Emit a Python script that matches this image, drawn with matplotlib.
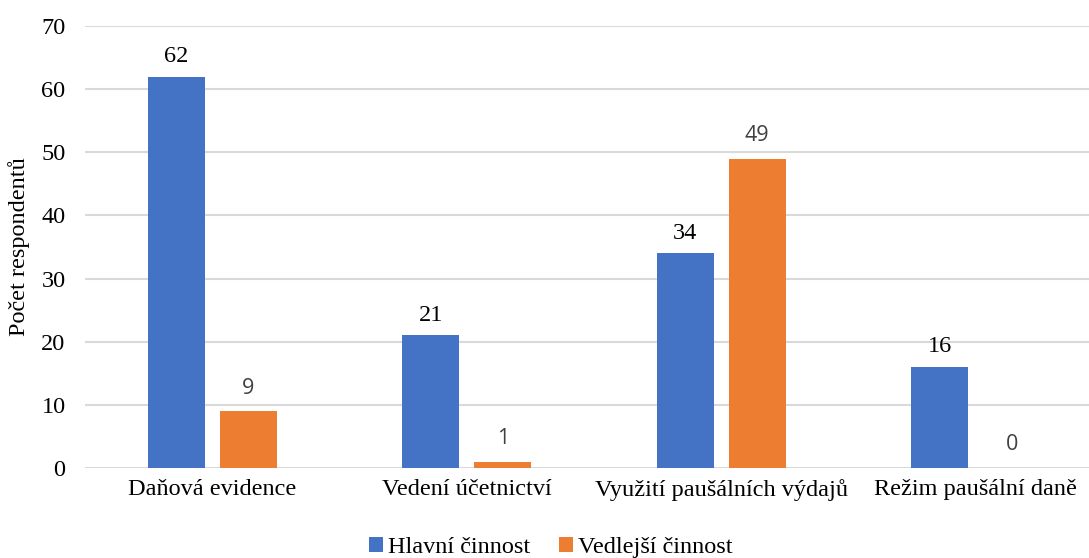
import numpy as np
import matplotlib
matplotlib.use('Agg')
import matplotlib.pyplot as plt

categories = ['Daňová evidence', 'Vedení účetnictví', 'Využití paušálních výdajů', 'Režim paušální daně']
hlavni = [62, 21, 34, 16]
vedlejsi = [9, 1, 49, 0]
series_names = ['Hlavní činnost', 'Vedlejší činnost']

plt.rcParams['font.family'] = ['Liberation Serif', 'DejaVu Serif']
plt.rcParams['font.size'] = 17.5
blue = '#4472C4'
orange = '#ED7D31'

fig = plt.figure(figsize=(10.89, 5.58), dpi=100)
ax = fig.add_axes([85 / 1089, 90 / 558, 1 - 85 / 1089, 442 / 558])

x = np.arange(len(categories))
w = 0.224
off = 0.1415
b1 = ax.bar(x - off, hlavni, w, color=blue, label=series_names[0], zorder=3)
b2 = ax.bar(x + off, vedlejsi, w, color=orange, label=series_names[1], zorder=3)

for rect, v in zip(b1, hlavni):
    ax.annotate(str(v), (rect.get_x() + rect.get_width() / 2, v), xytext=(0, 7),
                textcoords='offset points', ha='center', va='bottom',
                fontsize=17.5, color='black')
for rect, v in zip(b2, vedlejsi):
    ax.annotate(str(v), (rect.get_x() + rect.get_width() / 2, v), xytext=(0, 9),
                textcoords='offset points', ha='center', va='bottom',
                fontsize=15.5, family='Open Sans', color='#404040')

ax.set_xlim(-0.5, -0.5 + (1089 - 85) / 254.5)
ax.set_ylim(0, 70)
ax.set_yticks(range(0, 71, 10))
ax.set_xticks(x)
ax.set_xticklabels(categories)
ax.tick_params(axis='both', length=0, labelsize=17.5)
ax.tick_params(axis='x', pad=8)
ax.tick_params(axis='y', pad=14)
ax.grid(axis='y', color='#d9d9d9', linewidth=1.5, zorder=0)
for s in ax.spines.values():
    s.set_visible(False)

ax.set_ylabel('Počet respondentů', fontsize=17.5)
ax.yaxis.set_label_coords((19 - 85) / 1004, 0.5)
ax.yaxis.label.set_va('center')

leg = fig.legend(handles=[b1, b2], loc='center', bbox_to_anchor=(0.506, 0.019), ncol=2,
                 frameon=False, prop={'size': 17.5}, borderpad=0,
                 handlelength=0.57, handleheight=0.57, handletextpad=0.2, columnspacing=1.2)

fig.savefig('out.png', dpi=100)
